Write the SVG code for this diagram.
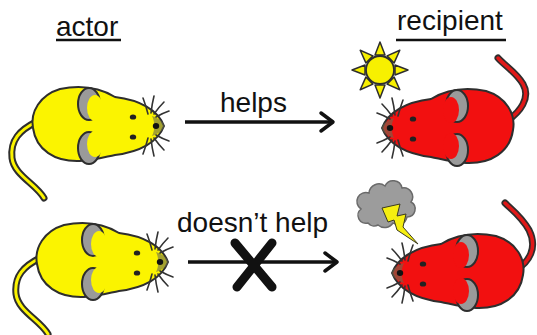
<svg xmlns="http://www.w3.org/2000/svg" xmlns:xlink="http://www.w3.org/1999/xlink" width="537" height="335" viewBox="0 0 537 335">
  <style>
    .label { font-family: "Liberation Sans", Arial, sans-serif; font-size: 28px; fill: #111; }
    .uline { stroke: #111; stroke-width: 2.5; }
    .edge { stroke: #111; stroke-width: 3.5; fill: none; }
    .outline { stroke: #2e2e2e; stroke-width: 2; stroke-linejoin: round; }
    .whisker { stroke: #333; stroke-width: 1.6; fill: none; stroke-linecap: round; }
    .tail-edge { stroke: #2e2e2e; stroke-width: 7; fill: none; stroke-linecap: round; }
    .ray { fill: #f7f000; stroke: #2e2e2e; stroke-width: 1.5; stroke-linejoin: round; }
  </style>
  <defs>
    <marker id="chevron" viewBox="-16 -12 20 24" markerWidth="20" markerHeight="24" refX="0" refY="0" orient="auto" markerUnits="userSpaceOnUse">
      <path d="M-12,-9 L0,0 L-12,9" fill="none" stroke="#111" stroke-width="3.5" stroke-linecap="round" stroke-linejoin="round"/>
    </marker>
    <!-- mouse seen from above, facing right; body colour comes from currentColor -->
    <g id="mouse">
      <path class="outline" fill="currentColor" d="M164,126 C158,110 140,100 115,97 C100,88 80,85 60,89 C40,95 30,112 33,128 C36,150 55,162 80,161 C95,160 105,157 115,155 C140,152 158,142 164,126 Z"/>
      <!-- ears -->
      <ellipse class="outline" cx="89" cy="104" rx="11" ry="16" fill="#9a9a9a"/>
      <ellipse cx="95" cy="108" rx="8" ry="13" fill="currentColor"/>
      <ellipse class="outline" cx="89" cy="148" rx="11" ry="16" fill="#9a9a9a"/>
      <ellipse cx="95" cy="144" rx="8" ry="13" fill="currentColor"/>
      <!-- snout, eyes, nose -->
      <path d="M152,116 C158,118 164,122 164,126 C164,130 158,134 152,136 C155,130 155,122 152,116 Z" fill="#6a6a50" opacity="0.6"/>
      <ellipse cx="133" cy="117" rx="3.2" ry="2.6" fill="#222"/>
      <ellipse cx="133" cy="137" rx="3.2" ry="2.6" fill="#222"/>
      <ellipse cx="156" cy="126" rx="3.2" ry="3" fill="#111"/>
      <!-- whiskers -->
      <path class="whisker" d="M148,114 q-2,-8 -5,-16 M151,113 q1,-9 3,-17 M154,114 q5,-7 10,-12 M156,117 q7,-4 13,-6"/>
      <path class="whisker" d="M148,138 q-2,8 -5,16 M151,139 q1,9 3,17 M154,138 q5,7 10,12 M156,135 q7,4 13,6"/>
    </g>
    <path id="ytail" d="M36,122 C20,130 10,140 12,158 C14,175 36,184 44,198"/>
  </defs>

  <rect width="537" height="335" fill="#fff"/>

  <!-- column headings -->
  <g id="actor-heading">
    <text class="label" x="56" y="36">actor</text>
    <line class="uline" x1="56" y1="40" x2="121" y2="40"/>
  </g>
  <g id="recipient-heading">
    <text class="label" x="397" y="30">recipient</text>
    <line class="uline" x1="396" y1="40" x2="506" y2="40"/>
  </g>

  <!-- actor, top row -->
  <g id="actor-top" style="color:#fbf400">
    <use xlink:href="#ytail" class="tail-edge"/>
    <use xlink:href="#ytail" fill="none" stroke="#fbf400" stroke-width="3" stroke-linecap="round"/>
    <use xlink:href="#mouse"/>
  </g>

  <!-- actor, bottom row -->
  <g id="actor-bottom" style="color:#fbf400" transform="translate(4,136)">
    <use xlink:href="#ytail" class="tail-edge"/>
    <use xlink:href="#ytail" fill="none" stroke="#fbf400" stroke-width="3" stroke-linecap="round"/>
    <use xlink:href="#mouse"/>
  </g>

  <!-- recipient, top row, with sun -->
  <g id="recipient-top" style="color:#f21010">
    <path class="tail-edge" d="M507,121 C520,112 531,98 523,84 C516,72 505,66 498,58"/>
    <path d="M507,121 C520,112 531,98 523,84 C516,72 505,66 498,58" fill="none" stroke="#e01818" stroke-width="3.5" stroke-linecap="round"/>
    <use xlink:href="#mouse" transform="translate(546,2) scale(-1,1)"/>
  </g>
  <g id="sun" transform="translate(380,70)">
    <polygon class="ray" points="-5,-15 5,-15 0,-28"/>
    <polygon class="ray" points="-5,-15 5,-15 0,-28" transform="rotate(45)"/>
    <polygon class="ray" points="-5,-15 5,-15 0,-28" transform="rotate(90)"/>
    <polygon class="ray" points="-5,-15 5,-15 0,-28" transform="rotate(135)"/>
    <polygon class="ray" points="-5,-15 5,-15 0,-28" transform="rotate(180)"/>
    <polygon class="ray" points="-5,-15 5,-15 0,-28" transform="rotate(225)"/>
    <polygon class="ray" points="-5,-15 5,-15 0,-28" transform="rotate(270)"/>
    <polygon class="ray" points="-5,-15 5,-15 0,-28" transform="rotate(315)"/>
    <circle r="14" fill="#f7f000" stroke="#2e2e2e" stroke-width="1.8"/>
  </g>

  <!-- recipient, bottom row, with storm cloud -->
  <g id="recipient-bottom" style="color:#f21010">
    <path class="tail-edge" d="M516,270 C529,262 538,248 529,230 C521,216 512,210 505,203"/>
    <path d="M516,270 C529,262 538,248 529,230 C521,216 512,210 505,203" fill="none" stroke="#e01818" stroke-width="3.5" stroke-linecap="round"/>
    <use xlink:href="#mouse" transform="translate(556,147) scale(-1,1)"/>
  </g>
  <g id="storm">
    <path d="M368,223 a8,8 0 0 1 -7,-14 a9,9 0 0 1 8,-16 a10,10 0 0 1 16,-7 a9,9 0 0 1 17,2 a9,9 0 0 1 9,14 a8,8 0 0 1 -4,15 a9,9 0 0 1 -14,6 a10,10 0 0 1 -15,2 a8,8 0 0 1 -10,-2 z" fill="#9c9c9c" stroke="#6a6a6a" stroke-width="1.5"/>
    <polygon points="382,208 400,204 397,216 406,214 403,227 418,244 397,230 394,220 388,222" fill="#f5ee10" stroke="#3a3a20" stroke-width="1" stroke-linejoin="round"/>
  </g>

  <!-- connectors -->
  <g id="connectors">
    <g id="edge-helps">
      <line class="edge" x1="185" y1="122" x2="333" y2="122" marker-end="url(#chevron)"/>
      <text class="label" x="220" y="112">helps</text>
    </g>
    <g id="edge-doesnt-help">
      <line class="edge" x1="188" y1="262" x2="337" y2="262" marker-end="url(#chevron)"/>
      <text class="label" x="177" y="232">doesn’t help</text>
      <path d="M235,243 L272,287 M272,243 L237,287" stroke="#111" stroke-width="9" stroke-linecap="round" fill="none"/>
    </g>
  </g>
</svg>
